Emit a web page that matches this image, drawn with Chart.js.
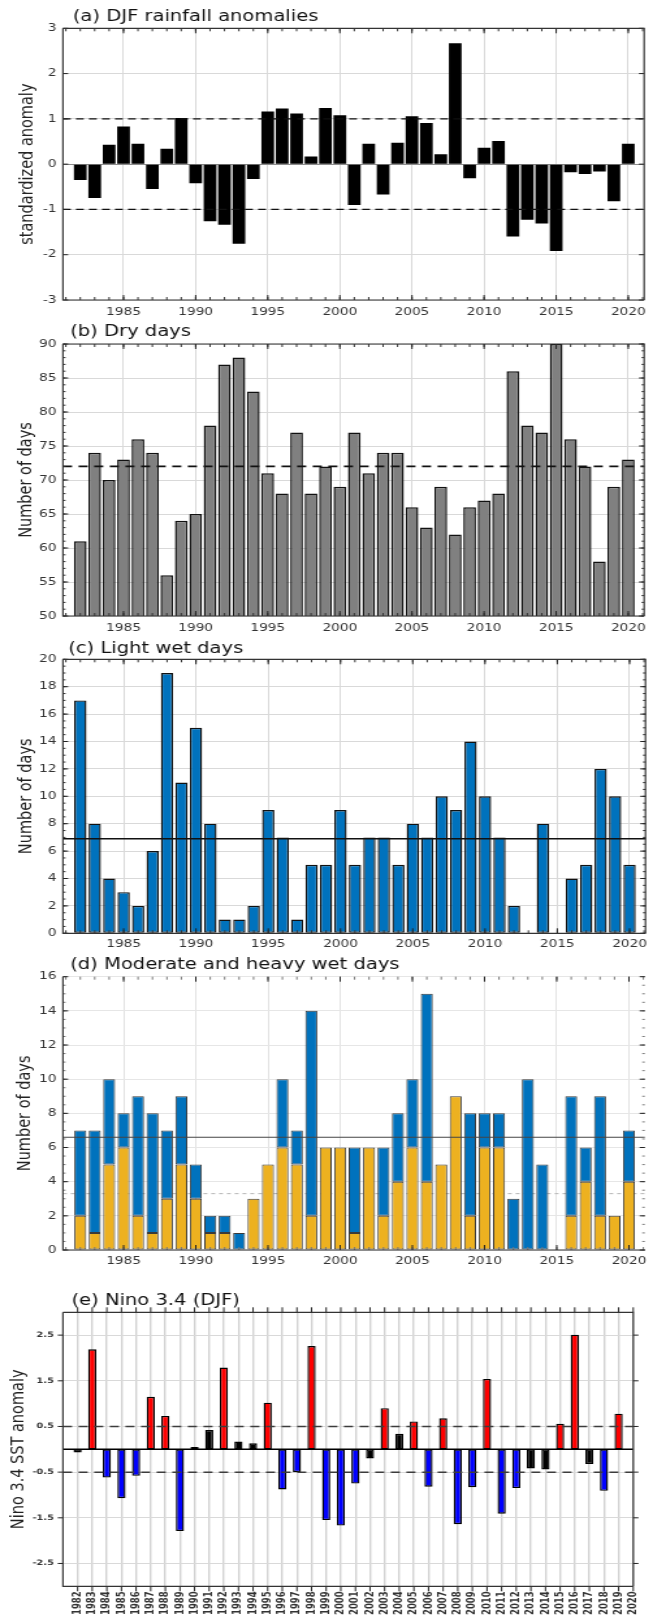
<!DOCTYPE html>
<html>
<head>
<meta charset="utf-8">
<title>DJF rainfall, wet/dry days and Nino 3.4</title>
<script src="https://cdn.jsdelivr.net/npm/chart.js@4.4.1/dist/chart.umd.min.js"></script>
<style>
  html, body { margin: 0; padding: 0; background: #fff; }
  body { width: 653px; height: 1618px; overflow: hidden; position: relative; }
  /* panels are laid out at 502px and widened to the full 653px */
  .panel { position: absolute; left: 0; transform-origin: 0 0; transform: scaleX(1.3008); }
  canvas { display: block; }
</style>
</head>
<body>
<div class="panel" style="top:0px"><canvas id="panelA" width="502" height="320" style="width:502px;height:320px"></canvas></div>
<div class="panel" style="top:320px"><canvas id="panelB" width="502" height="320" style="width:502px;height:320px"></canvas></div>
<div class="panel" style="top:640px"><canvas id="panelC" width="502" height="312" style="width:502px;height:312px"></canvas></div>
<div class="panel" style="top:952px"><canvas id="panelD" width="502" height="318" style="width:502px;height:318px"></canvas></div>
<div class="panel" style="top:1270px"><canvas id="panelE" width="502" height="348" style="width:502px;height:348px"></canvas></div>

<script>
// ---------------- DATA ----------------
const years = [1982, 1983, 1984, 1985, 1986, 1987, 1988, 1989, 1990, 1991,
  1992, 1993, 1994, 1995, 1996, 1997, 1998, 1999, 2000, 2001,
  2002, 2003, 2004, 2005, 2006, 2007, 2008, 2009, 2010, 2011,
  2012, 2013, 2014, 2015, 2016, 2017, 2018, 2019, 2020];

// (a) standardized DJF rainfall anomaly
const rainfallAnomaly = [-0.35, -0.75, 0.43, 0.83, 0.45, -0.55, 0.34, 1.02, -0.42, -1.26,
  -1.34, -1.76, -0.33, 1.16, 1.23, 1.12, 0.17, 1.24, 1.08, -0.9,
  0.45, -0.67, 0.47, 1.06, 0.91, 0.22, 2.67, -0.31, 0.36, 0.51,
  -1.6, -1.23, -1.31, -1.92, -0.18, -0.22, -0.16, -0.82, 0.45];

// (b) dry days
const dryDays = [61, 74, 70, 73, 76, 74, 56, 64, 65, 78,
  87, 88, 83, 71, 68, 77, 68, 72, 69, 77,
  71, 74, 74, 66, 63, 69, 62, 66, 67, 68,
  86, 78, 77, 90, 76, 72, 58, 69, 73];

// (c) light wet days
const lightWetDays = [17, 8, 4, 3, 2, 6, 19, 11, 15, 8,
  1, 1, 2, 9, 7, 1, 5, 5, 9, 5,
  7, 7, 5, 8, 7, 10, 9, 14, 10, 7,
  2, 0, 8, 0, 4, 5, 12, 10, 5];

// (d) moderate (lower part) and heavy (upper part) wet days
const moderateDays = [2, 1, 5, 6, 2, 1, 3, 5, 3, 1,
  1, 0, 3, 5, 6, 5, 2, 6, 6, 1,
  6, 2, 4, 6, 4, 5, 9, 2, 6, 6,
  0, 0, 0, 0, 2, 4, 2, 2, 4];
const heavyDays = [5, 6, 5, 2, 7, 7, 4, 4, 2, 1,
  1, 1, 0, 0, 4, 2, 12, 0, 0, 5,
  0, 4, 4, 4, 11, 0, 0, 6, 2, 2,
  3, 10, 5, 0, 7, 2, 7, 0, 3];

// (e) Nino 3.4 DJF SST anomaly, 1982-2019
const ninoYears = [1982, 1983, 1984, 1985, 1986, 1987, 1988, 1989, 1990, 1991,
  1992, 1993, 1994, 1995, 1996, 1997, 1998, 1999, 2000, 2001,
  2002, 2003, 2004, 2005, 2006, 2007, 2008, 2009, 2010, 2011,
  2012, 2013, 2014, 2015, 2016, 2017, 2018, 2019];
const nino34 = [-0.07, 2.19, -0.62, -1.07, -0.58, 1.15, 0.73, -1.79, 0.05, 0.42,
  1.79, 0.17, 0.13, 1.02, -0.88, -0.5, 2.26, -1.55, -1.67, -0.75,
  -0.2, 0.9, 0.34, 0.61, -0.82, 0.68, -1.64, -0.83, 1.54, -1.41,
  -0.85, -0.42, -0.44, 0.56, 2.51, -0.32, -0.91, 0.78];

// reference lines
const rainBands = [-1, 1];
const dryMean = 72;
const lightMean = 6.9;
const wetTotalMean = 6.6;
const moderateMean = 3.3;
const ninoBands = [-0.5, 0.5];
const ninoThreshold = 0.5;

// tick labels
const yearTicks = [1985, 1990, 1995, 2000, 2005, 2010, 2015, 2020];
const ninoTickYears = [1982, 1983, 1984, 1985, 1986, 1987, 1988, 1989, 1990, 1991,
  1992, 1993, 1994, 1995, 1996, 1997, 1998, 1999, 2000, 2001,
  2002, 2003, 2004, 2005, 2006, 2007, 2008, 2009, 2010, 2011,
  2012, 2013, 2014, 2015, 2016, 2017, 2018, 2019, 2020];
const rainTicks = [-3, -2, -1, 0, 1, 2, 3];
const dryTicks = [50, 55, 60, 65, 70, 75, 80, 85, 90];
const lightTicks = [0, 2, 4, 6, 8, 10, 12, 14, 16, 18, 20];
const wetTicks = [0, 2, 4, 6, 8, 10, 12, 14, 16];
const ninoTicks = [-2.5, -1.5, -0.5, 0.5, 1.5, 2.5];

// ---------------- HELPERS ----------------
const FONT = "'DejaVu Sans', 'Liberation Sans', sans-serif";
const PLOT_LEFT = 48.4;
const PLOT_RIGHT_PAD = 5.4;

Chart.defaults.font.family = FONT;
Chart.defaults.color = '#333';
Chart.defaults.animation = false;

function steps(from, to, step) {
  const out = [];
  for (let v = from; v <= to + 1e-9; v += step) out.push(+v.toFixed(3));
  return out;
}

function points(xs, ys) {
  return xs.map((x, i) => ({ x, y: ys[i] }));
}

function drawLines(chart, lines) {
  const { ctx, chartArea: { left, right }, scales: { y } } = chart;
  lines.forEach(l => {
    const py = y.getPixelForValue(l.value);
    ctx.save();
    ctx.strokeStyle = l.color;
    ctx.lineWidth = l.width;
    ctx.setLineDash(l.dash || []);
    ctx.beginPath();
    ctx.moveTo(left, py);
    ctx.lineTo(right, py);
    ctx.stroke();
    ctx.restore();
  });
}

function drawFrame(chart, o) {
  const { ctx, chartArea: { left, right, top, bottom }, scales: { x, y } } = chart;
  const dir = o.outward ? -1 : 1;
  ctx.save();
  ctx.lineWidth = 1;

  const xTicks = (vals, len, color) => {
    ctx.strokeStyle = color;
    ctx.beginPath();
    vals.forEach(v => {
      const px = x.getPixelForValue(v);
      ctx.moveTo(px, top); ctx.lineTo(px, top + dir * len);
      ctx.moveTo(px, bottom); ctx.lineTo(px, bottom - dir * len);
    });
    ctx.stroke();
  };
  const yTicks = (vals, len, color) => {
    ctx.strokeStyle = color;
    ctx.beginPath();
    vals.forEach(v => {
      const py = y.getPixelForValue(v);
      ctx.moveTo(left, py); ctx.lineTo(left + dir * len, py);
      ctx.moveTo(right, py); ctx.lineTo(right - dir * len, py);
    });
    ctx.stroke();
  };
  xTicks(o.xMinor || [], 3, o.minorColor || '#333');
  xTicks(o.xMajor || [], 5, '#222');
  yTicks(o.yMinor || [], 2, o.minorColor || '#333');
  yTicks(o.yMajor || [], 4, '#222');

  ctx.lineWidth = 1.2;
  if (o.frameFar !== 'none') {
    ctx.strokeStyle = o.frameFar || '#333';
    ctx.beginPath();
    ctx.moveTo(left, top); ctx.lineTo(right, top); ctx.lineTo(right, bottom);
    ctx.stroke();
  }
  ctx.strokeStyle = '#333';
  ctx.beginPath();
  ctx.moveTo(left, top); ctx.lineTo(left, bottom); ctx.lineTo(right, bottom);
  ctx.stroke();
  ctx.restore();
}

function drawTexts(chart, o) {
  const { ctx, chartArea: { top, bottom } } = chart;
  ctx.save();
  ctx.fillStyle = '#111';
  ctx.font = '15px ' + FONT;
  ctx.textBaseline = 'alphabetic';
  ctx.textAlign = 'left';
  ctx.fillText(o.title, o.titleX, o.titleY);

  ctx.translate(o.yTitleX, (top + bottom) / 2);
  ctx.rotate(-Math.PI / 2);
  ctx.font = '14.5px ' + FONT;
  ctx.textAlign = 'center';
  ctx.textBaseline = 'middle';
  ctx.fillStyle = '#222';
  ctx.fillText(o.yTitle, 0, 0);
  ctx.restore();
}

const panelPlugin = {
  id: 'panel',
  beforeDatasetsDraw(chart, args, o) {
    drawLines(chart, (o.lines || []).filter(l => l.below));
  },
  afterDatasetsDraw(chart, args, o) {
    drawLines(chart, (o.lines || []).filter(l => !l.below));
    drawFrame(chart, o);
    drawTexts(chart, o);
  }
};
Chart.register(panelPlugin);

function yearAxis(cfg) {
  return {
    type: 'linear',
    min: cfg.min,
    max: cfg.max,
    offset: false,
    stacked: !!cfg.stacked,
    afterBuildTicks: s => { s.ticks = cfg.ticks.map(v => ({ value: v })); },
    afterFit: s => { s.height = cfg.height; },
    grid: { color: cfg.gridColor || '#d9d9d9', lineWidth: cfg.gridWidth || 1, drawTicks: false, offset: false },
    border: { display: false },
    ticks: {
      padding: cfg.pad,
      autoSkip: false,
      maxRotation: cfg.rotation || 0,
      minRotation: cfg.rotation || 0,
      color: '#333',
      font: cfg.font || { size: 10.5 },
      callback: v => String(v)
    }
  };
}

function valueAxis(cfg) {
  return {
    min: cfg.min,
    max: cfg.max,
    stacked: !!cfg.stacked,
    afterBuildTicks: s => { s.ticks = cfg.ticks.map(v => ({ value: v })); },
    afterFit: s => { s.width = PLOT_LEFT; },
    grid: { color: cfg.gridColor || '#d9d9d9', lineWidth: 1, drawTicks: false },
    border: { display: false },
    ticks: {
      padding: cfg.pad || 5,
      color: '#333',
      font: cfg.font || { size: 10.5 },
      callback: v => String(v)
    }
  };
}

function barChart(id, cfg) {
  return new Chart(document.getElementById(id), {
    type: 'bar',
    data: { datasets: cfg.datasets },
    options: {
      responsive: false,
      devicePixelRatio: 1,
      events: [],
      layout: { padding: { top: cfg.top, right: PLOT_RIGHT_PAD, left: 0, bottom: 0 } },
      plugins: { legend: { display: false }, tooltip: { enabled: false }, panel: cfg.panel },
      scales: { x: cfg.x, y: cfg.y }
    }
  });
}

const allYears = steps(1981, 2021, 1);

// ---------------- (a) rainfall anomalies ----------------
barChart('panelA', {
  top: 28.3,
  datasets: [{
    data: points(years, rainfallAnomaly),
    backgroundColor: '#000',
    borderColor: '#222',
    borderWidth: 0,
    barPercentage: 0.88,
    categoryPercentage: 1
  }],
  x: yearAxis({ min: 1980.8, max: 2021.1, ticks: yearTicks, height: 20, pad: 5.5 }),
  y: valueAxis({
    min: -3, max: 3, ticks: rainTicks,
    gridColor: c => c.tick && c.tick.value === 0 ? '#8c8c8c' : '#d9d9d9'
  }),
  panel: {
    title: '(a) DJF rainfall anomalies', titleX: 56, titleY: 20.7,
    yTitle: 'standardized anomaly', yTitleX: 20.8,
    xMajor: yearTicks, xMinor: allYears, yMajor: rainTicks,
    lines: rainBands.map(v => ({ value: v, color: '#111', width: 1.3, dash: [6, 4] }))
  }
});

// ---------------- (b) dry days ----------------
barChart('panelB', {
  top: 24,
  datasets: [{
    data: points(years, dryDays),
    backgroundColor: '#808080',
    borderColor: '#111',
    borderWidth: 1.5,
    borderSkipped: false,
    barPercentage: 0.88,
    categoryPercentage: 1
  }],
  x: yearAxis({ min: 1980.8, max: 2021.1, ticks: yearTicks, height: 24, pad: 5.5 }),
  y: valueAxis({ min: 50, max: 90, ticks: dryTicks }),
  panel: {
    title: '(b) Dry days', titleX: 54, titleY: 15.7,
    yTitle: 'Number of days', yTitleX: 20,
    xMajor: yearTicks, xMinor: allYears, yMajor: dryTicks, yMinor: steps(50, 90, 1),
    lines: [{ value: dryMean, color: '#111', width: 1.8, dash: [7, 5] }]
  }
});

// ---------------- (c) light wet days ----------------
barChart('panelC', {
  top: 19.3,
  datasets: [{
    data: points(years, lightWetDays),
    backgroundColor: '#0072BD',
    borderColor: '#111',
    borderWidth: 1.4,
    borderSkipped: false,
    barPercentage: 0.85,
    categoryPercentage: 1
  }],
  x: yearAxis({ min: 1980.8, max: 2021.1, ticks: yearTicks, height: 18.7, pad: 4.5 }),
  y: valueAxis({ min: 0, max: 20, ticks: lightTicks }),
  panel: {
    title: '(c) Light wet days', titleX: 52.5, titleY: 12.7,
    yTitle: 'Number of days', yTitleX: 20,
    xMajor: yearTicks, xMinor: allYears, yMajor: lightTicks, yMinor: steps(0, 20, 0.5),
    lines: [{ value: lightMean, color: '#111', width: 1.5 }]
  }
});

// ---------------- (d) moderate and heavy wet days ----------------
barChart('panelD', {
  top: 24.7,
  datasets: [{
    data: points(years, moderateDays),
    backgroundColor: '#EDB120',
    borderColor: '#3a3a3a',
    borderWidth: 1,
    borderSkipped: false,
    barPercentage: 0.83,
    categoryPercentage: 1
  }, {
    data: points(years, heavyDays),
    backgroundColor: '#0072BD',
    borderColor: '#3a3a3a',
    borderWidth: 1,
    borderSkipped: false,
    barPercentage: 0.83,
    categoryPercentage: 1
  }],
  x: yearAxis({ min: 1980.8, max: 2021.1, ticks: yearTicks, height: 20, pad: 5, stacked: true, gridColor: '#e2e2e2' }),
  y: valueAxis({ min: 0, max: 16, ticks: wetTicks, stacked: true, gridColor: '#e6e6e6' }),
  panel: {
    title: '(d) Moderate and heavy wet days', titleX: 54, titleY: 17.3,
    yTitle: 'Number of days', yTitleX: 19,
    xMajor: yearTicks, xMinor: allYears, yMajor: wetTicks, yMinor: steps(0, 16, 0.5),
    minorColor: '#777', frameFar: 'none',
    lines: [
      { value: moderateMean, color: '#b5b5b5', width: 1, dash: [3, 3], below: true },
      { value: wetTotalMean, color: '#444', width: 1 }
    ]
  }
});

// ---------------- (e) Nino 3.4 ----------------
const ninoColors = nino34.map(v => v >= ninoThreshold ? '#FF0000' : v <= -ninoThreshold ? '#0000FF' : '#000000');

barChart('panelE', {
  top: 42.3,
  datasets: [{
    data: points(ninoYears, nino34),
    backgroundColor: ninoColors,
    borderColor: '#000',
    borderWidth: 1.4,
    borderSkipped: false,
    barPercentage: 0.56,
    categoryPercentage: 1
  }],
  x: yearAxis({
    min: 1981, max: 2020, ticks: ninoTickYears, height: 31.7, pad: 5, rotation: 90,
    gridColor: '#d2d2d2', gridWidth: 1.4,
    font: { size: 8.5, weight: 'bold' }
  }),
  y: valueAxis({
    min: -3, max: 3, ticks: ninoTicks, pad: 7, gridColor: '#d9d9d9',
    font: { size: 7.5, weight: 'bold' }
  }),
  panel: {
    title: '(e) Nino 3.4 (DJF)', titleX: 55, titleY: 35,
    yTitle: 'Nino 3.4 SST anomaly', yTitleX: 14.6,
    outward: true,
    xMajor: ninoTickYears, yMajor: ninoTicks,
    lines: [
      { value: 0, color: '#000', width: 1.4 },
      ...ninoBands.map(v => ({ value: v, color: '#3c3c3c', width: 1.5, dash: [7, 5] }))
    ]
  }
});
</script>
</body>
</html>
